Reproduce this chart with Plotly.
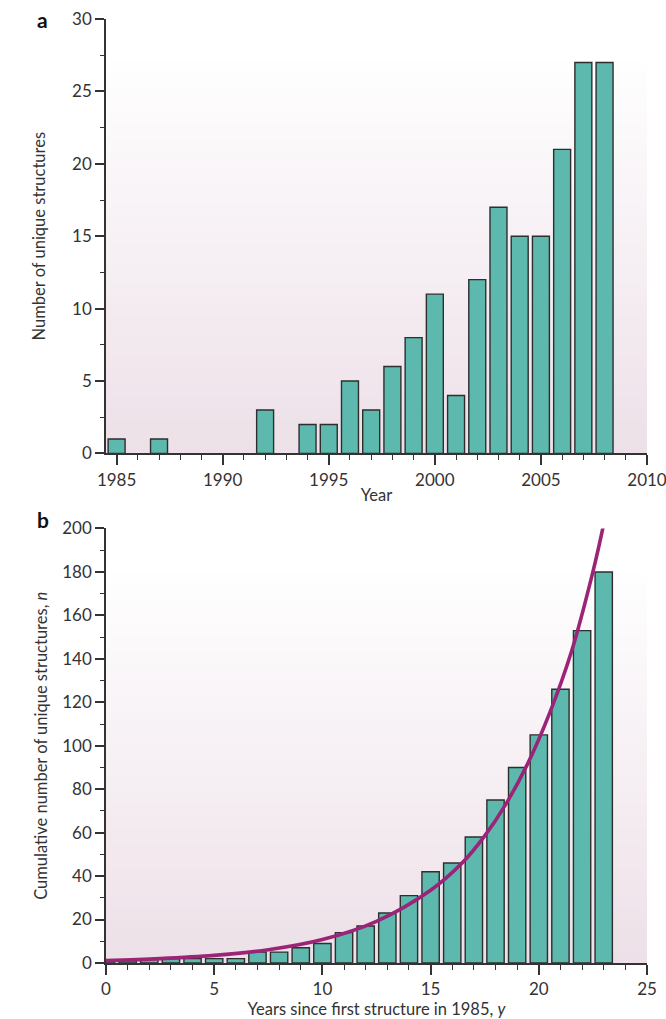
import plotly.graph_objects as go

# ---------------- data ----------------
years = list(range(1985, 2009))
new_structures = [1, 0, 1, 0, 0, 0, 0, 3, 0, 2, 2, 5, 3, 6, 8, 11, 4, 12, 17, 15, 15, 21, 27, 27]

years_since = list(range(0, 24))
cumulative = [1, 1, 2, 2, 2, 2, 2, 5, 5, 7, 9, 14, 17, 23, 31, 42, 46, 58, 75, 90, 105, 126, 153, 180]

# fitted growth curve
fit_y = [0, 2.5, 5, 7.5, 10, 12.5, 15, 16.5, 17.5, 18.5, 19.5, 20.5, 21.5, 22.5, 23.0]
fit_n = [1.1, 2.0, 3.5, 6.1, 10.8, 19.2, 33.5, 46.5, 58.5, 73.5, 92, 115, 143, 180, 202]

# ---------------- style ----------------
BAR = "#5DB8AD"
EDGE = "#2E2E2E"
CURVE = "#9B2378"
AX = "#333333"
FONT = "Lato"

fig = go.Figure()

fig.add_trace(go.Bar(x=years, y=new_structures, width=0.8,
                     marker=dict(color=BAR,
                                 line=dict(color=EDGE,
                                           width=[0 if v == 0 else 1.4 for v in new_structures])),
                     xaxis="x", yaxis="y", showlegend=False))

fig.add_trace(go.Bar(x=years_since, y=cumulative, width=0.8,
                     marker=dict(color=BAR, line=dict(color=EDGE, width=1.4)),
                     xaxis="x2", yaxis="y2", showlegend=False))

fig.add_trace(go.Scatter(x=fit_y, y=fit_n, mode="lines",
                         line=dict(color=CURVE, width=3.6, shape="spline", smoothing=1.0),
                         xaxis="x2", yaxis="y2", showlegend=False))

# ---------------- gradient backgrounds ----------------
def gradient(xref, yref, top_frac, n=70, c_top=(255, 255, 255), c_bot=(237, 224, 232)):
    shapes = []
    for i in range(n):
        f0 = top_frac * i / n
        f1 = top_frac * (i + 1) / n
        t = (i + 0.5) / n  # 0 at bottom, 1 at top
        col = tuple(round(c_bot[k] + (c_top[k] - c_bot[k]) * t) for k in range(3))
        shapes.append(dict(type="rect", xref=xref + " domain", yref=yref + " domain",
                           x0=0, x1=1, y0=f0, y1=f1 + 0.002, layer="below",
                           line=dict(width=0), fillcolor="rgb(%d,%d,%d)" % col))
    return shapes

shapes = gradient("x", "y", 0.917) + gradient("x2", "y2", 0.91)

tickfont = dict(family=FONT, size=17, color=AX)
titlefont = dict(family=FONT, size=16.5, color=AX)

common_x = dict(showline=True, linecolor=AX, linewidth=1.6, ticks="outside", ticklen=10,
                tickwidth=1.6, tickcolor=AX, showgrid=False, zeroline=False, tickfont=tickfont,
                title_font=titlefont, automargin=False, ticklabeloverflow="allow")
common_y = dict(showline=True, linecolor=AX, linewidth=1.6, ticks="outside", ticklen=9,
                tickwidth=1.6, tickcolor=AX, showgrid=False, zeroline=False, tickfont=tickfont,
                title_font=titlefont, automargin=False, ticklabeloverflow="allow")

fig.update_layout(
    width=666, height=1019,
    margin=dict(l=106, r=19, t=19, b=56),
    paper_bgcolor="white", plot_bgcolor="white",
    bargap=0.2,
    shapes=shapes,
    xaxis=dict(common_x, domain=[0, 1], anchor="y", range=[1984.5, 2010],
               tickmode="array", tickvals=[1985, 1990, 1995, 2000, 2005, 2010],
               minor=dict(dtick=1, tick0=1985, ticklen=5, tickwidth=1.4, tickcolor=AX, ticks="outside"),
               title=dict(text="Year", standoff=1)),
    yaxis=dict(common_y, domain=[0.5398, 1], anchor="x", range=[0, 30],
               tickmode="linear", tick0=0, dtick=5,
               minor=dict(dtick=2.5, ticklen=4, tickwidth=1.4, tickcolor=AX, ticks="outside"),
               title=dict(text="Number of unique structures", standoff=22)),
    xaxis2=dict(common_x, domain=[0, 1], anchor="y2", range=[0, 25],
                tickmode="linear", tick0=0, dtick=5,
                minor=dict(dtick=1, ticklen=5, tickwidth=1.4, tickcolor=AX, ticks="outside"),
                title=dict(text="Years since first structure in 1985, <i>y</i>", standoff=4)),
    yaxis2=dict(common_y, domain=[0, 0.4603], anchor="x2", range=[0, 200],
                tickmode="linear", tick0=0, dtick=20,
                minor=dict(dtick=10, ticklen=4, tickwidth=1.4, tickcolor=AX, ticks="outside"),
                title=dict(text="Cumulative number of unique structures, <i>n</i>", standoff=10)),
    annotations=[
        dict(text="<b>a</b>", xref="paper", yref="paper", x=-0.118, y=1.0,
             xanchor="center", yanchor="middle", showarrow=False,
             font=dict(family=FONT, size=21, color="#111")),
        dict(text="<b>b</b>", xref="paper", yref="paper", x=-0.116, y=0.470,
             xanchor="center", yanchor="middle", showarrow=False,
             font=dict(family=FONT, size=21, color="#111")),
    ],
)

# remove the browser's default 8px page margin so the figure sits at the window's corner
fig.write_html("out.html", config={"displayModeBar": False},
               post_script="document.body.style.margin='0';")
